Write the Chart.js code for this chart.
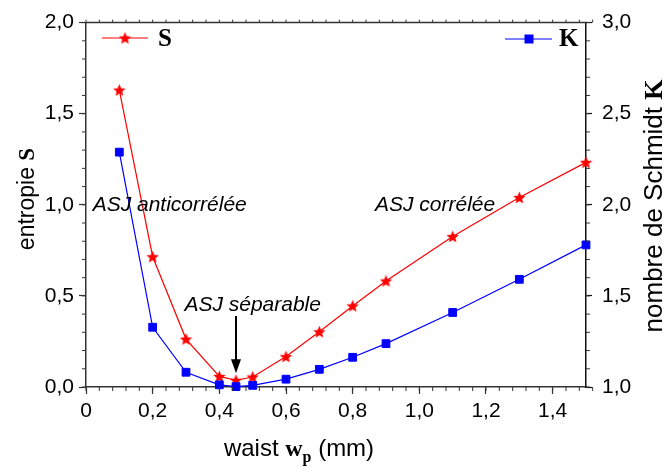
<!DOCTYPE html>
<html>
<head>
<meta charset="utf-8">
<script src="https://cdn.jsdelivr.net/npm/chart.js@4/dist/chart.umd.min.js"></script>
<style>
  html, body { margin: 0; padding: 0; background: #fff; }
  #wrap { width: 664px; height: 468px; }
</style>
</head>
<body>
<div id="wrap"><canvas id="chart" width="664" height="468"></canvas></div>
<script>
// waist values (mm)
const waist = [0.1, 0.2, 0.3, 0.4, 0.45, 0.5, 0.6, 0.7, 0.8, 0.9, 1.1, 1.3, 1.5];
// entropie S (left axis)
const entropyS = [1.63, 0.715, 0.263, 0.058, 0.037, 0.055, 0.167, 0.303, 0.445, 0.582, 0.826, 1.04, 1.233];
// nombre de Schmidt K (right axis)
const schmidtK = [2.289, 1.328, 1.081, 1.012, 1.002, 1.009, 1.043, 1.097, 1.163, 1.238, 1.409, 1.591, 1.78];

const xTicks = { min: 0, max: 1.5, step: 0.2, minor: 0.04 };
const sTicks = { min: 0, max: 2, step: 0.5, minor: 0.1 };
const kTicks = { min: 1, max: 3, step: 0.5, minor: 0.1 };

const SANS = '"Liberation Sans", Arial, sans-serif';
const SERIF = '"Liberation Serif", "Times New Roman", serif';
const AXIS = '#333';

function frNum(v) {
    return v === 0 ? '0' : v.toFixed(1).replace('.', ',');
}

// filled five point star used as point marker
function makeStar(size, color) {
    const c = document.createElement('canvas');
    c.width = size; c.height = size;
    const g = c.getContext('2d');
    const cx = size / 2, cy = size / 2 + 0.5;
    const outer = size / 2, inner = outer * 0.45;
    g.beginPath();
    for (let i = 0; i < 10; i++) {
        const r = i % 2 ? inner : outer;
        const a = -Math.PI / 2 + i * Math.PI / 5;
        g.lineTo(cx + r * Math.cos(a), cy + r * Math.sin(a));
    }
    g.closePath();
    g.fillStyle = color;
    g.fill();
    return c;
}
const star = makeStar(13, '#ff0000');

// text made of several pieces with different fonts
function drawParts(ctx, parts, x, y) {
    let w = 0;
    parts.forEach(p => { ctx.font = p.font; w += ctx.measureText(p.text).width; });
    let cx = x - w / 2;
    ctx.textAlign = 'left';
    ctx.textBaseline = 'alphabetic';
    parts.forEach(p => {
        ctx.font = p.font;
        ctx.fillText(p.text, cx, y + (p.dy || 0));
        cx += ctx.measureText(p.text).width;
    });
}

function minorTicks(ctx, scale, t, dir, len, horizontal, pos) {
    const n = Math.round((t.max - t.min) / t.minor);
    for (let i = 0; i <= n; i++) {
        const v = t.min + i * t.minor;
        const p = scale.getPixelForValue(v);
        ctx.beginPath();
        if (horizontal) { ctx.moveTo(p, pos); ctx.lineTo(p, pos + dir * len); }
        else { ctx.moveTo(pos, p); ctx.lineTo(pos + dir * len, p); }
        ctx.stroke();
    }
}

const extras = {
    id: 'extras',
    afterDraw(chart) {
        const ctx = chart.ctx;
        const a = chart.chartArea;
        const x = chart.scales.x, y = chart.scales.y, y1 = chart.scales.y1;
        ctx.save();
        ctx.strokeStyle = AXIS;

        // top frame line
        ctx.lineWidth = 1.5;
        ctx.beginPath(); ctx.moveTo(a.left, a.top); ctx.lineTo(a.right + 1, a.top); ctx.stroke();
        ctx.lineWidth = 1;

        // minor ticks
        minorTicks(ctx, x, xTicks, 1, 4, true, a.bottom);
        minorTicks(ctx, x, xTicks, -1, 3, true, a.top);
        minorTicks(ctx, y, sTicks, -1, 4, false, a.left);
        minorTicks(ctx, y1, kTicks, 1, 4, false, a.right);

        ctx.fillStyle = '#000';
        // axis titles
        drawParts(ctx, [
            { text: 'waist ', font: '24px ' + SANS },
            { text: 'w', font: 'bold 24px ' + SERIF },
            { text: 'p', font: 'bold 16px ' + SERIF, dy: 6 },
            { text: ' (mm)', font: '24px ' + SANS }
        ], 299, 456);

        ctx.save();
        ctx.translate(34, 199);
        ctx.rotate(-Math.PI / 2);
        drawParts(ctx, [
            { text: 'entropie ', font: '23px ' + SANS },
            { text: 'S', font: 'bold 23px ' + SERIF }
        ], 0, 0);
        ctx.restore();

        ctx.save();
        ctx.translate(662, 206);
        ctx.rotate(-Math.PI / 2);
        drawParts(ctx, [
            { text: 'nombre de Schmidt ', font: '26px ' + SANS },
            { text: 'K', font: 'bold 26px ' + SERIF }
        ], 0, 0);
        ctx.restore();

        // legend
        ctx.lineWidth = 1.2;
        ctx.strokeStyle = '#ff0000';
        ctx.beginPath(); ctx.moveTo(102, 38); ctx.lineTo(148, 38); ctx.stroke();
        ctx.drawImage(star, 125 - 6.5, 38 - 6.5);
        ctx.strokeStyle = '#0000ff';
        ctx.beginPath(); ctx.moveTo(505, 39); ctx.lineTo(552, 39); ctx.stroke();
        ctx.fillStyle = '#0000ff';
        ctx.fillRect(529 - 4.5, 39 - 4.5, 9, 9);
        ctx.fillStyle = '#000';
        ctx.font = 'bold 25px ' + SERIF;
        ctx.textAlign = 'left';
        ctx.textBaseline = 'middle';
        ctx.fillText('S', 158, 40);
        ctx.fillText('K', 559, 40);

        // annotations
        ctx.font = 'italic 21px ' + SANS;
        ctx.textBaseline = 'middle';
        ctx.fillText('ASJ anticorrélée', x.getPixelForValue(0.02), y.getPixelForValue(1.0));
        ctx.fillText('ASJ corrélée', x.getPixelForValue(0.867), y.getPixelForValue(1.0));
        ctx.textAlign = 'center';
        ctx.fillText('ASJ séparable', x.getPixelForValue(0.5), y.getPixelForValue(0.45));

        // arrow to the separable point
        const ax = x.getPixelForValue(0.45);
        const y0 = y.getPixelForValue(0.39), yTip = y.getPixelForValue(0.075);
        ctx.strokeStyle = '#000';
        ctx.lineWidth = 2;
        ctx.beginPath(); ctx.moveTo(ax, y0); ctx.lineTo(ax, yTip - 10); ctx.stroke();
        ctx.fillStyle = '#000';
        ctx.beginPath();
        ctx.moveTo(ax - 5, yTip - 14);
        ctx.lineTo(ax + 5, yTip - 14);
        ctx.lineTo(ax, yTip);
        ctx.closePath();
        ctx.fill();
        ctx.restore();
    }
};

const tickFont = { family: SANS, size: 21 };

new Chart(document.getElementById('chart'), {
    type: 'line',
    data: {
        datasets: [{
            label: 'S',
            data: waist.map((w, i) => ({ x: w, y: entropyS[i] })),
            yAxisID: 'y',
            borderColor: '#ff0000',
            borderWidth: 1.2,
            pointStyle: star,
            pointRadius: 6,
            order: 2,
            clip: false
        }, {
            label: 'K',
            data: waist.map((w, i) => ({ x: w, y: schmidtK[i] })),
            yAxisID: 'y1',
            borderColor: '#0000ff',
            backgroundColor: '#0000ff',
            borderWidth: 1.2,
            pointStyle: 'rect',
            pointRadius: 5.5,
            pointBorderWidth: 1,
            pointBackgroundColor: '#0000ff',
            order: 1,
            clip: false
        }]
    },
    options: {
        responsive: false,
        animation: false,
        devicePixelRatio: 1,
        layout: { padding: { top: 14.5, left: 0, right: 0, bottom: 0 } },
        plugins: { legend: { display: false }, tooltip: { enabled: false } },
        scales: {
            x: {
                type: 'linear',
                min: xTicks.min, max: xTicks.max,
                afterFit: s => { s.height = 81; },
                border: { color: AXIS, width: 1.5 },
                grid: { drawOnChartArea: false, tickLength: 7, tickColor: AXIS, tickWidth: 1.2 },
                ticks: {
                    stepSize: xTicks.step, includeBounds: false, autoSkip: false,
                    maxRotation: 0, padding: 5, color: '#000', font: tickFont,
                    callback: v => frNum(v)
                }
            },
            y: {
                position: 'left',
                min: sTicks.min, max: sTicks.max,
                afterFit: s => { s.width = 86; },
                border: { color: AXIS, width: 1.5 },
                grid: { drawOnChartArea: false, tickLength: 7, tickColor: AXIS, tickWidth: 1.2 },
                ticks: { stepSize: sTicks.step, padding: 5, color: '#000', font: tickFont, callback: v => v.toFixed(1).replace('.', ',') }
            },
            y1: {
                position: 'right',
                min: kTicks.min, max: kTicks.max,
                afterFit: s => { s.width = 78; },
                border: { color: '#111', width: 1.5 },
                grid: { drawOnChartArea: false, tickLength: 6, tickColor: '#111', tickWidth: 1.2 },
                ticks: { stepSize: kTicks.step, padding: 10, color: '#000', font: tickFont, callback: v => v.toFixed(1).replace('.', ',') }
            }
        }
    },
    plugins: [extras]
});
</script>
</body>
</html>
